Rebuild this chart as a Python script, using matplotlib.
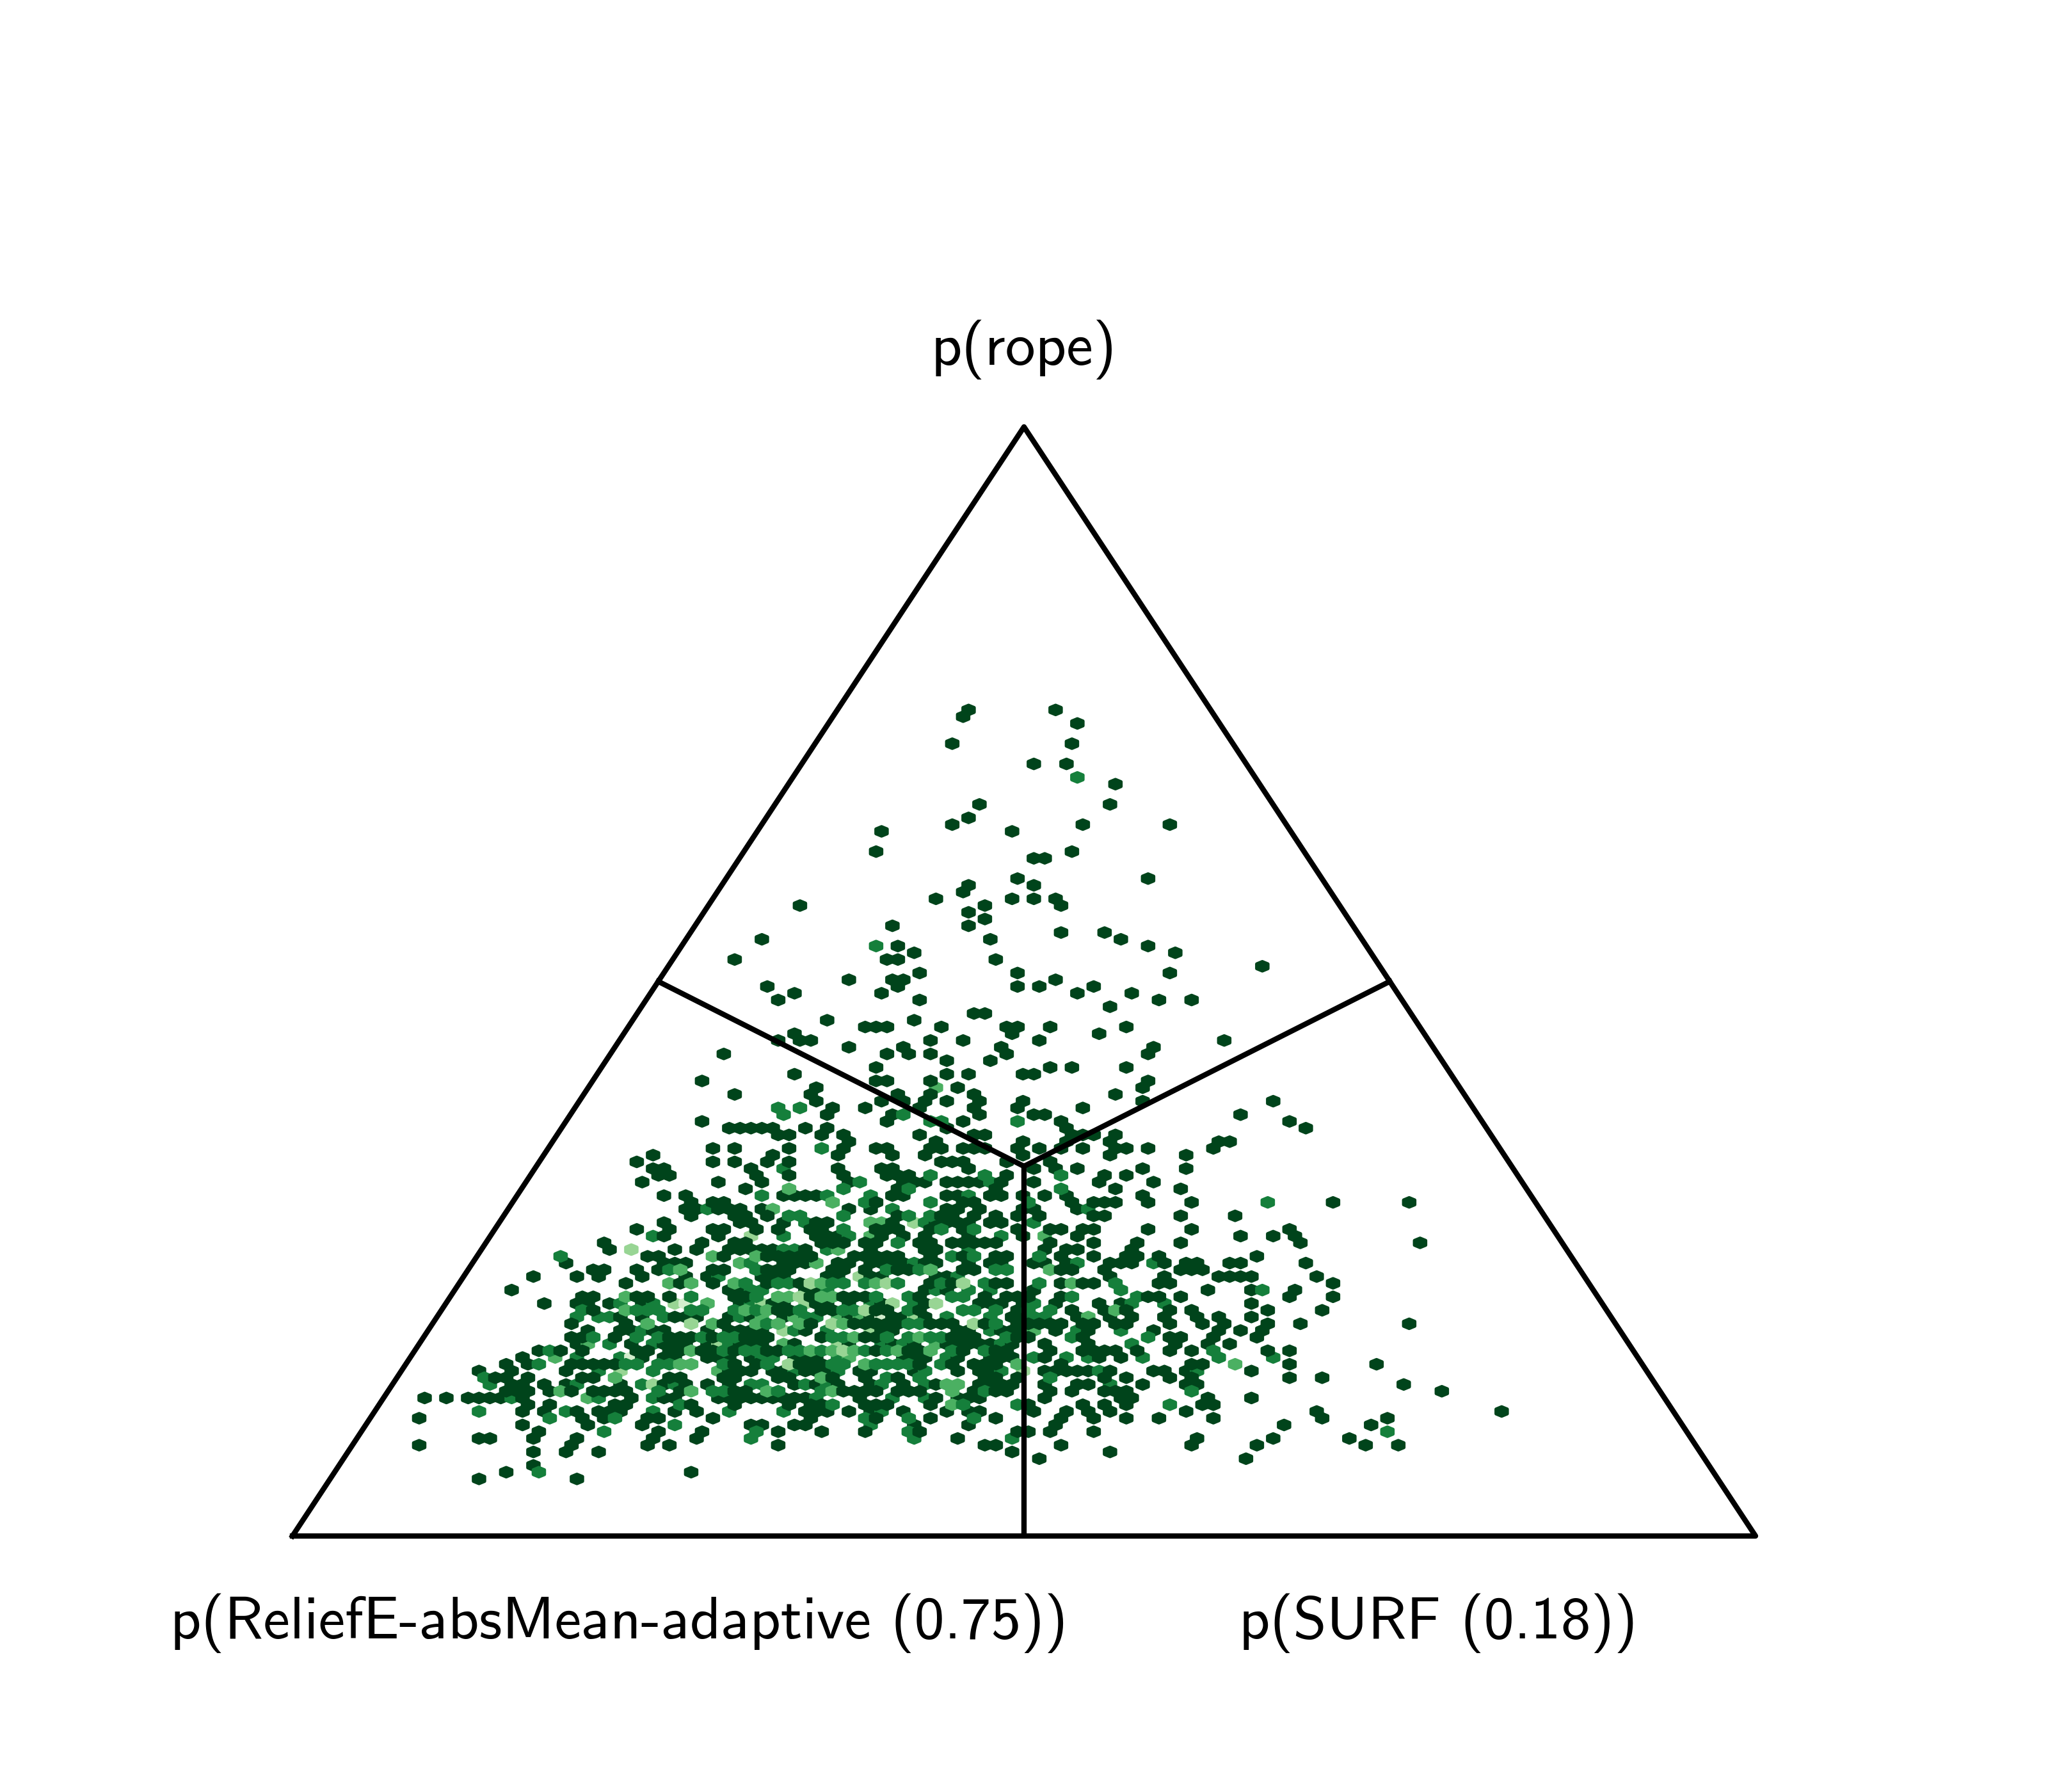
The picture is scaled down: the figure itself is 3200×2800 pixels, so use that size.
import numpy as np
import matplotlib
matplotlib.use('Agg')
import matplotlib.pyplot as plt

# labels of the three corners
label_left = 'p(ReliefE-absMean-adaptive (0.75))'
label_right = 'p(SURF (0.18))'
label_top = 'p(rope)'

# samples: row -> positions along the row (in half hex steps)
# each table holds the cells with that many samples
single = {
    0: [0, 16], 1: [-1], 2: [20], 5: [-3, 19], 8: [12, 18], 11: [27], 14: [2, 26], 16: [0],
    17: [-3, 21, 37], 18: [-16, 8], 21: [-17, 19], 22: [12, 14], 25: [9, 33], 26: [0, 12],
    27: [-1], 28: [-6, 8, 12, 16], 29: [-31, 3, 17], 30: [0], 31: [3], 32: [-14, 0],
    33: [17, 25], 34: [-38, 4, 28], 35: [-13, 33], 36: [-10, 38], 37: [-43, -15, -13, 5],
    38: [54], 39: [-9, 9, 37], 40: [-22, -14, -12, 16], 41: [-37, -13, 9, 13, 23],
    42: [-32, -16, 20, 30], 43: [-35, -9, 35, 41], 44: [26], 45: [1, 3], 46: [-26, -10],
    47: [-19, -17, -15, -5, 7, 9, 15, 29], 48: [-32, 8, 24], 49: [-35, -31, -29, -7, -1, 13, 47],
    50: [-22, -12, 6, 34], 51: [-45, -15, -11, -7, 7, 33], 52: [-4, 4], 53: [-17, 15, 19, 29],
    54: [-32, -4, 0, 10, 12], 55: [-49, -17, -15, -7, 33], 56: [-28, -2, 32],
    57: [-43, -29, -13, -7, 1, 27], 58: [-28, -16, -12, -8, -4, 2, 10, 32, 56],
    59: [-25, -19, -9, 1, 9, 21], 60: [-26, -14, 2, 12, 14, 50], 61: [-49, -15, -1, 17, 59],
    62: [-44, -42, -40, -38, -36, -30, -26, -4, 18, 62],
    63: [-35, -33, -27, -23, -9, 1, 3, 19, 21, 23, 27], 64: [-22, -6, 10, 18, 26, 46, 48],
    65: [-47, -43, -33, -23, -17, -15, -7, -5, -1, 1, 3, 9, 13, 17, 21, 27, 29, 33, 45],
    66: [-58, -36, -24, -14, -8, 10, 26, 40], 67: [-61, -47, -43, -37, -33, -5, -3, -1, 7, 15],
    68: [-58, -56, -40, -24, -16, -14, 0, 12, 16, 20, 32, 40],
    69: [-57, -55, -39, -33, -23, -15, -13, -11, 7, 25, 29],
    70: [-60, -46, -38, -22, -12, -10, -8, -4, -2, 0, 2, 6, 12, 24, 34],
    71: [-41, -13, 5, 27, 39],
    72: [-56, -52, -34, -32, -30, -28, -14, -12, -4, -2, 4, 6, 10, 14, 18, 32],
    73: [-51, -47, -45, -17, -1, 1, 19, 23, 25, 27, 33, 41, 67, 81],
    74: [-52, -50, -46, -44, -42, -38, -22, -18, -4, -2, 2, 10, 12, 20],
    75: [-51, -43, -41, -37, -13, -5, -3, 1, 5, 9, 13, 23, 25, 39, 49],
    76: [-56, -42, -40, -34, -28, -26, -14, -6, -4, -2, 0, 4, 6],
    77: [-61, -55, -47, -45, -39, -35, -29, -27, -17, -15, -13, -7, -1, 9, 15, 17, 21, 23, 33, 41, 59],
    78: [-56, -46, -28, -26, -24, -16, -12, -8, 0, 10, 20, 50, 56, 60],
    79: [-67, -49, -43, -41, -27, -25, -23, -19, -17, -9, -7, -3, -1, 1, 3, 5, 15, 23, 31, 39, 61, 83],
    80: [-66, -54, -50, -44, -42, -40, -38, -36, -30, -18, -8, -6, 14, 18, 20, 30],
    81: [-59, -57, -45, -37, -35, -33, -31, -29, -21, -19, -17, -15, -13, -7, -1, 5, 7, 17, 23, 29, 31, 35, 53],
    82: [-74, -56, -54, -52, -34, -32, -30, -24, -22, -18, -16, -14, -12, -8, -6, 0, 4, 6, 12, 14, 18, 26, 28, 30, 36, 40, 42, 48, 50, 62],
    83: [-69, -67, -61, -57, -47, -45, -37, -35, -33, -25, -23, -19, -13, -11, -1, 1, 17, 19, 25, 39, 41, 43],
    84: [-80, -72, -68, -60, -52, -48, -38, -36, -34, -26, -24, -18, -16, -6, -4, 26, 36, 46, 48, 50, 52, 64],
    85: [-63, -53, -47, -37, -31, -7, -3, 5, 7, 17, 21, 23, 35, 37, 67],
    86: [-84, -44, -42, -30, -28, -8, -4, 12, 44, 52, 60],
    87: [-71, -69, -61, -59, -55, -43, -41, -29, -23, -21, -19, -9, 3, 7, 9, 11, 17, 33, 35, 39, 59, 67],
    88: [-78, -72, -70, -66, -60, -42, -36, -34, -28, -26, -22, -16, -8, 2, 4, 6, 10, 16, 24, 28, 52],
    89: [-69, -35, -33, -27, -25, -17, -15, -9, 9, 19, 25, 29, 37, 41, 55, 65],
    90: [-64, -60, -54, -52, -50, -44, -40, -34, -22, -18, -14, -12, -8, 8, 10, 20, 26, 30, 36, 42, 46, 52],
    91: [-73, -63, -45, -29, -21, -19, -17, -15, -13, -7, -5, -3, 3, 9, 11, 13, 15, 17, 21, 23, 27, 29, 37, 43, 47, 55, 61, 81],
    92: [-70, -64, -62, -58, -56, -48, -44, -42, -40, -38, -30, -16, -14, -2, 0, 6, 8, 10, 16, 22, 34, 46, 50, 54],
    93: [-73, -71, -65, -55, -53, -51, -47, -41, -39, -37, -27, -19, -17, -3, -1, 1, 9, 11, 21, 37, 39, 45, 53],
    94: [-72, -62, -56, -54, -52, -48, -42, -40, -38, -32, -22, -14, -10, -4, -2, 0, 2, 4, 8, 14, 22, 38, 44, 48],
    95: [-79, -75, -71, -61, -59, -55, -53, -49, -47, -43, -37, -35, -17, -11, -9, -1, 5, 7, 15, 21, 23, 25, 27, 31, 37, 41, 55, 59],
    96: [-82, -60, -56, -54, -48, -46, -44, -40, -32, -30, -28, -12, -10, -8, -2, 4, 6, 8, 14, 24, 28],
    97: [-85, -81, -73, -71, -69, -67, -65, -43, -39, -31, -29, -27, -9, -3, 1, 3, 5, 17, 41, 43, 59, 75],
    98: [-90, -84, -74, -44, -42, -40, -36, -34, -30, -28, -26, -20, -18, -10, -2, 2, 4, 14, 16, 18, 20, 22, 26, 34, 36, 40, 52],
    99: [-87, -85, -81, -71, -69, -55, -53, -45, -43, -35, -33, -25, -19, -13, 3, 5, 9, 25, 29, 37, 41, 59, 65],
    100: [-84, -82, -78, -74, -64, -56, -52, -48, -44, -32, -28, -24, -18, -12, -6, 2, 4, 6, 8, 14, 20, 22, 32, 40, 42, 80],
    101: [-85, -83, -81, -77, -73, -69, -67, -65, -63, -53, -43, -41, -23, -21, -19, -17, -13, -11, -9, 1, 5, 7, 15, 19, 25, 27, 29, 87],
    102: [-100, -96, -92, -90, -88, -86, -82, -62, -56, -54, -46, -44, -42, -40, -38, -36, -34, -32, -30, -20, -6, -2, 0, 2, 14, 28, 30, 44, 52],
    103: [-81, -77, -65, -63, -51, -43, -33, -29, -27, -19, -17, -15, -7, 11, 21, 25, 29, 43, 45],
    104: [-82, -78, -72, -68, -66, -64, -54, -50, -30, -28, -26, -22, -18, -12, -4, 0, 2, 12, 18, 22, 26, 40, 64, 98],
    105: [-101, -71, -67, -59, -57, -47, -29, -17, -7, 5, 17, 23, 29, 35, 45, 65, 77],
    106: [-82, -70, -60, -40, -38, -32, -30, -10, 0, 16, 58, 74],
    107: [-79, -57, -49, -35, -27, -19, -9, 9, 11, 15, 23],
    108: [-90, -88, -80, -72, -58, -50, -2, 42, 56, 70],
    109: [-101, -73, -59, -55, -35, 3, 5, 17, 41, 53, 73, 79],
    110: [-80, -74, -68, 8, 26], 111: [13, 51], 112: [-80], 113: [-85, -51], 114: [-90, -72],
}
double = {
    10: [20], 35: [-17], 59: [-35, -31], 60: [-34, -12], 61: [-7, -5, 9], 65: [-27], 68: [-34],
    69: [-7, 3, 17], 70: [-20, 4], 71: [-23, -11, 17], 72: [-38, -26, -18, 0],
    73: [-19, -7, 11, 55], 74: [-48, -14, 22], 75: [-33, -31, -23, -11, -7], 76: [-30, -8, 12],
    77: [-23, -5, 1], 78: [-58, -34, -22, 6], 79: [-13], 80: [-34, -32, -26, 0],
    81: [-75, -3, 1, 13], 82: [-40, -10, 20, 34], 83: [-55, -39, -15, -9, 5, 7], 84: [-46, -2],
    85: [-41, -35, -33, -25, -23, -19, -13, -5, 3, 13, 27], 86: [-40, -38, -26, -6, 0, 4, 28, 54],
    87: [-51, -39, -17, -11, -3, -1, 19, 31], 88: [-64, -58, -40, -18, -10, 12, 30, 36],
    89: [-71, -61, -59, -57, -51, -49, -43, -39, -31, -23, -21, -11, -1, 1, 5, 11, 15],
    90: [-72, -68, -66, -56, -42, -30, -28, -4, 4, 12, 14], 91: [-37, -11, -9, 5],
    92: [-60, -32, -26, 4, 20, 28], 93: [-69, -61, -57, -49, -45, -43, -25, -23, -15, -11, -7, -5, 7, 19, 33],
    94: [-66, -58, -44, -16, -12, 6, 30], 95: [-77, -45, -41, -39, -33, -31, -27, -19, -15, -3, 3, 45],
    96: [-72, -64, -38, -36, -24, -4, 12, 18, 22, 32, 46, 56],
    97: [-79, -63, -61, -57, -55, -45, -37, -25, -23, -17, -15, -13, -11, -5],
    98: [-68, -58, -32, -24, -8, 6, 24, 42], 99: [-89, -15, -9, 15],
    100: [-88, -72, -60, -54, -40, -38, -30, -26, -16, -8, 26], 101: [-57, -47, -45, -35, -27, 3, 41],
    102: [-84, -68, -58, -28, -14, -8], 103: [-53, -25, -1, 9, 37], 104: [-90, -74, -58, -44, -34, -16],
    105: [-77, -65, -19, -11, 1], 106: [-54, -18], 107: [-67, -39, -11, 77], 108: [-40, -10, 8], 113: [-79],
}
triple = {
    56: [-6], 71: [-33], 73: [-25], 74: [-36], 76: [-18, -16], 78: [-18, 14], 80: [-24],
    81: [-47, -39], 82: [-42, -28], 83: [-53, -7, 15], 85: [-55, -51, -43, -27, -17, 19],
    87: [-63, -35, -33, -27, -25], 88: [-48], 89: [-63, -41, -37, 27], 90: [-38, -32, -24, -20, 22],
    91: [-59, -47, -39, -35, -31, -23], 92: [12], 93: [-21, -9], 94: [-70, -34, -6],
    95: [-51, -29, -25, -21, -13, -7], 96: [-76, -22], 97: [-53, -51, -19, 9, 49], 98: [-46],
    99: [-65, -27], 100: [-4, -2], 101: [-75, -51, -37, -25, -3], 102: [-70], 103: [-3],
}
quadruple = {
    76: [-10], 78: [-40], 80: [-62], 84: [-20], 85: [-29, -15, -1], 87: [-31],
    88: [-54, -38, -30, -14, -6], 89: [-19], 90: [-10], 91: [-51, -25, 1], 92: [-34, -18],
    94: [-46, -24], 95: [-23], 97: [-33], 98: [-64, 10], 100: [-58],
}
quintuple = {88: [-52], 90: [-16], 96: [-62]}

# where row 0, position 0 sits in the simplex, and the steps of the hex grid
x_origin, y_origin = 0.46212, 0.6450
x_step, y_step = 0.003718, 0.005267

counts = {}
for n, table in [(1, single), (2, double), (3, triple), (4, quadruple), (5, quintuple)]:
    for row, positions in table.items():
        for pos in positions:
            counts[(pos, row)] = n

xs = []
ys = []
for (pos, row), n in counts.items():
    xs += [x_origin + pos * x_step] * n
    ys += [y_origin - row * y_step] * n

fig = plt.figure(figsize=(8, 7), dpi=400)
ax = fig.add_axes([457 / 3200, 1 - 2400 / 2800, 2286 / 3200, 1733 / 2800])

extent = (x_origin - 102 * x_step, x_origin + 98 * x_step, y_origin - 114 * y_step, y_origin)
ax.hexbin(xs, ys, gridsize=(100, 57), extent=extent, mincnt=1, cmap='Greens_r', vmin=1, vmax=6,
          linewidths=1.0)

# triangle and the three regions
top = np.sqrt(3) / 2
ax.plot([0, 0.5, 1, 0], [0, top, 0, 0], color='k', lw=1.5, clip_on=False, zorder=3)
center = top / 3
ax.plot([0.5, 0.5], [0, center], color='k', lw=1.5, zorder=3)
ax.plot([0.25, 0.5], [top / 2, center], color='k', lw=1.5, zorder=3)
ax.plot([0.75, 0.5], [top / 2, center], color='k', lw=1.5, zorder=3)

ax.set_xlim(0, 1)
ax.set_ylim(0, top)
ax.axis('off')

font = ['cmss10', 'DejaVu Sans']
ax.text(0.5, 0.9265, label_top, ha='center', va='center', fontsize=16.9, family=font)
ax.text(0.223, -0.068, label_left, ha='center', va='center', fontsize=16.9, family=font)
ax.text(0.783, -0.068, label_right, ha='center', va='center', fontsize=16.9, family=font)

plt.savefig('out.png', dpi=400)
